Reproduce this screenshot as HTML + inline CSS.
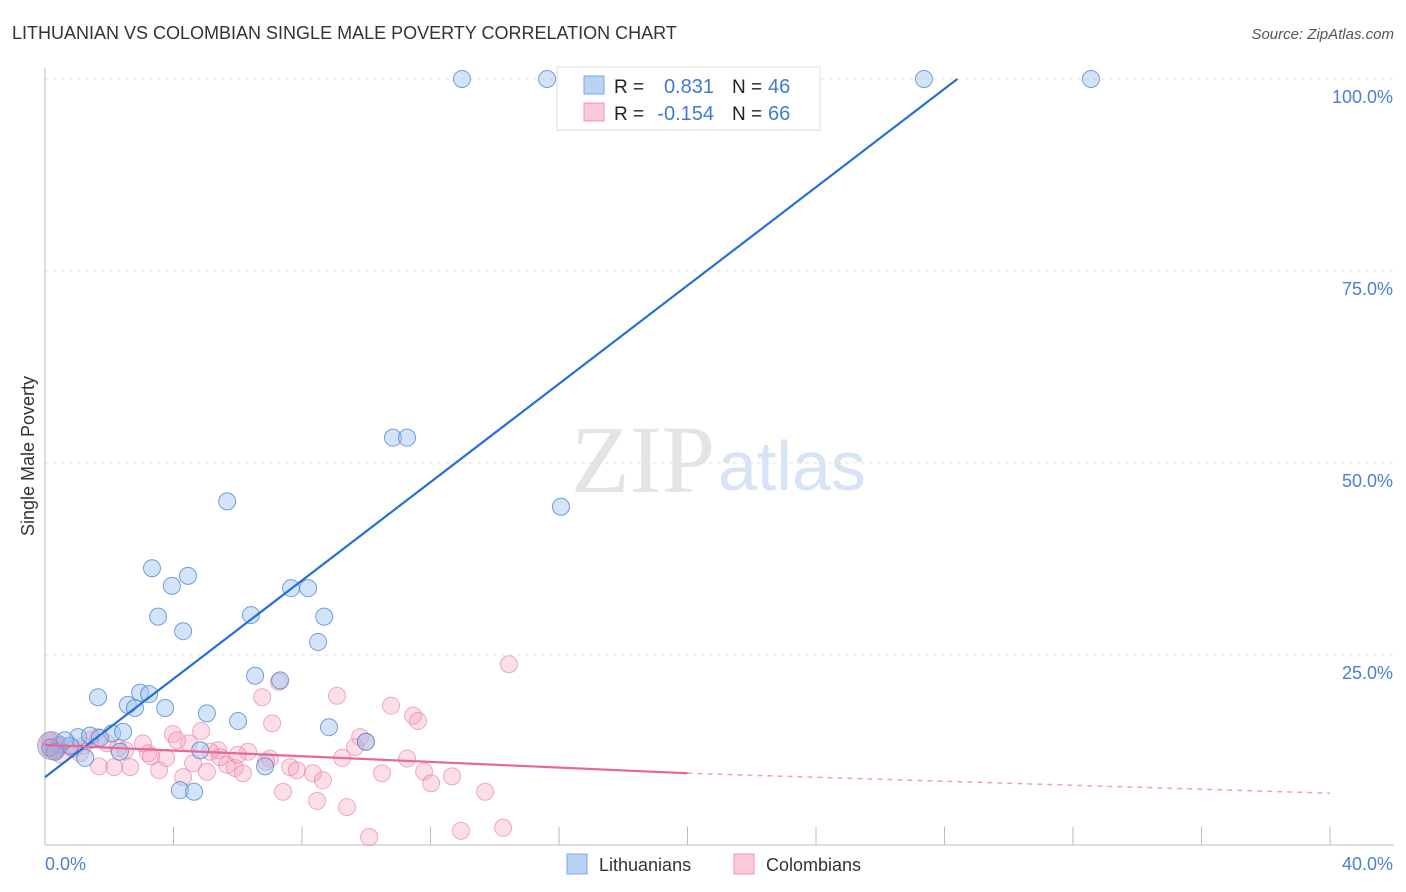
<!DOCTYPE html>
<html><head><meta charset="utf-8"><style>
body{margin:0;background:#fff;font-family:"Liberation Sans",sans-serif;}
svg{display:block}
</style></head><body>
<svg id="chart" width="1406" height="892" viewBox="0 0 1406 892">
<text x="12" y="39" font-size="18" fill="#333">LITHUANIAN VS COLOMBIAN SINGLE MALE POVERTY CORRELATION CHART</text>
<text x="1394" y="39" font-size="15" fill="#555" font-style="italic" text-anchor="end">Source: ZipAtlas.com</text>
<text x="715" y="492" font-size="96" fill="#e4e4e4" text-anchor="end" font-family="Liberation Serif,serif">ZIP</text>
<text x="718" y="490" font-size="70" fill="#d6e4f5">atlas</text>
<g id="grid"></g><g id="axes"></g><g id="pts"></g><g id="lines"></g>
<text transform="translate(34,456) rotate(-90)" font-size="18" fill="#333" text-anchor="middle">Single Male Poverty</text>
<text x="45" y="870" font-size="18" fill="#4a7fd4">0.0%</text>
<text x="1393" y="870" font-size="18" fill="#4a7fd4" text-anchor="end">40.0%</text>
<g>
<rect x="557" y="67" width="263" height="63" fill="#fff" stroke="#ddd"/>
<rect x="584" y="76" width="20" height="18" fill="#b9d3f5" stroke="#7aa7e6"/>
<rect x="584" y="103" width="20" height="18" fill="#fbc9d8" stroke="#ef93b2"/>
<text x="614" y="93" font-size="19" fill="#222">R =</text>
<text x="714" y="93" font-size="20" fill="#3f7bd4" text-anchor="end">0.831</text>
<text x="732" y="93" font-size="19" fill="#222">N =</text>
<text x="768" y="93" font-size="20" fill="#3f7bd4">46</text>
<text x="614" y="120" font-size="19" fill="#222">R =</text>
<text x="714" y="120" font-size="20" fill="#3f7bd4" text-anchor="end">-0.154</text>
<text x="732" y="120" font-size="19" fill="#222">N =</text>
<text x="768" y="120" font-size="20" fill="#3f7bd4">66</text>
</g>
<g>
<rect x="567" y="854" width="20" height="20" fill="#b9d3f5" stroke="#7aa7e6"/>
<text x="599" y="871" font-size="18" fill="#333">Lithuanians</text>
<rect x="734" y="854" width="20" height="20" fill="#fbc9d8" stroke="#ef93b2"/>
<text x="766" y="871" font-size="18" fill="#333">Colombians</text>
</g>
</svg>
<script>
const yTicks=[25,50,75,100];
const yTickLabels=["25.0%","50.0%","75.0%","100.0%"];
const xTicks=[0,4,8,12,16,20,24,28,32,36,40];
const lithX=[12.98,15.63,27.36,32.56,10.83,11.27,16.06,5.67,3.33,4.45,3.95,3.52,4.30,6.41,7.66,8.19,8.69,8.50,1.65,2.96,3.24,2.58,2.80,3.74,5.04,6.01,6.54,7.32,8.84,9.99,1.03,1.40,2.09,2.43,1.71,0.47,0.78,0.16,1.25,4.83,6.85,4.20,4.64,2.33,0.31,0.62];
const lithY=[100,100,100,100,53.3,53.3,44.3,45.0,36.3,35.3,34.0,30.0,28.1,30.2,33.7,33.7,30.0,26.7,19.5,20.1,19.9,18.5,18.1,18.1,17.4,16.4,22.3,21.7,15.6,13.7,14.3,14.5,14.8,15.0,14.2,13.3,13.2,12.9,11.6,12.6,10.5,7.4,7.2,12.4,12.4,13.9];
const colX=[14.44,7.28,6.76,9.09,10.77,11.46,11.61,7.07,4.86,3.98,9.81,9.99,9.65,4.48,3.05,2.27,1.65,6.32,5.39,5.14,3.21,3.77,11.27,9.25,6.88,4.61,5.67,5.91,6.16,7.63,7.84,8.34,8.65,10.49,11.80,12.02,12.67,5.04,3.55,2.65,2.15,1.68,4.30,7.41,8.47,9.40,13.70,10.09,12.95,14.26,0.16,0.37,0.78,1.09,1.93,1.40,4.11,5.45,0.2,0.5,2.5,3.3,6.0,7.0,1.2,0.9];
const colY=[23.8,21.5,19.5,19.7,18.4,17.1,16.4,16.1,15.1,14.7,14.3,13.7,13.0,13.5,13.5,12.9,14.3,12.4,12.6,12.4,12.2,11.6,11.5,11.6,11.1,10.9,10.7,10.3,9.6,10.4,10.0,9.6,8.7,9.6,9.8,8.3,9.2,9.8,10.0,10.4,10.4,10.5,9.1,7.2,6.0,5.2,7.2,1.3,2.1,2.5,13.9,12.6,13.0,12.2,13.5,13.9,13.9,11.7,13.0,12.0,12.6,11.8,12.0,11.5,13.2,12.8];
const lithTrend=[[0,9.1],[28.4,100]];
const colTrendSolid=[[0,13.3],[20,9.6]];
const colTrendDash=[[20,9.6],[40,7.0]];
const NS='http://www.w3.org/2000/svg';
const sx=v=>45+v/40*1285, sy=v=>847-v/100*768;
function mk(tag,attrs,parent){const e=document.createElementNS(NS,tag);for(const k in attrs)e.setAttribute(k,attrs[k]);document.getElementById(parent).appendChild(e);return e;}
yTicks.forEach((t,i)=>{
 const g=mk('line',{x1:45,x2:1394,y1:sy(t),y2:sy(t),stroke:'#e2e2e2','stroke-dasharray':'4,4'},'grid');
 
 
 const l=mk('text',{x:1393,y:sy(t)+24,'font-size':18,fill:'#4a7fd4','text-anchor':'end'},'grid');
 l.textContent=yTickLabels[i];
 
 
});
const ax=mk('line',{x1:45,x2:45,y1:68,y2:845,stroke:'#bbb'},'axes');


const bx=mk('line',{x1:45,x2:1394,y1:845,y2:845,stroke:'#bbb'},'axes');


xTicks.forEach(t=>{
 const k=mk('line',{x1:sx(t),x2:sx(t),y1:827,y2:845,stroke:'#bbb'},'axes');
 
 
});
colX.forEach((x,i)=>{
 const c=mk('circle',{cx:sx(x),cy:sy(colY[i]),r:8.5,fill:'rgba(245,160,190,0.35)',stroke:'rgba(230,120,160,0.6)','stroke-width':1},'pts');
 
 
});
lithX.forEach((x,i)=>{
 const c=mk('circle',{cx:sx(x),cy:sy(lithY[i]),r:8.5,fill:'rgba(160,195,240,0.45)',stroke:'rgba(70,130,210,0.75)','stroke-width':1},'pts');
 
 
});
const big=mk('circle',{cx:sx(0.2),cy:sy(13.2),r:14,fill:'rgba(170,150,200,0.5)',stroke:'rgba(150,140,200,0.6)'},'pts');


const l1=mk('line',{x1:sx(lithTrend[0][0]),y1:sy(lithTrend[0][1]),x2:sx(lithTrend[1][0]),y2:sy(lithTrend[1][1]),stroke:'#2370d8','stroke-width':2.2},'lines');


const l2=mk('line',{x1:sx(colTrendSolid[0][0]),y1:sy(colTrendSolid[0][1]),x2:sx(colTrendSolid[1][0]),y2:sy(colTrendSolid[1][1]),stroke:'#e8679a','stroke-width':2.2},'lines');


const l3=mk('line',{x1:sx(colTrendDash[0][0]),y1:sy(colTrendDash[0][1]),x2:sx(colTrendDash[1][0]),y2:sy(colTrendDash[1][1]),stroke:'#eea0bd','stroke-width':1.5,'stroke-dasharray':'5,5'},'lines');


</script>
</body></html>
